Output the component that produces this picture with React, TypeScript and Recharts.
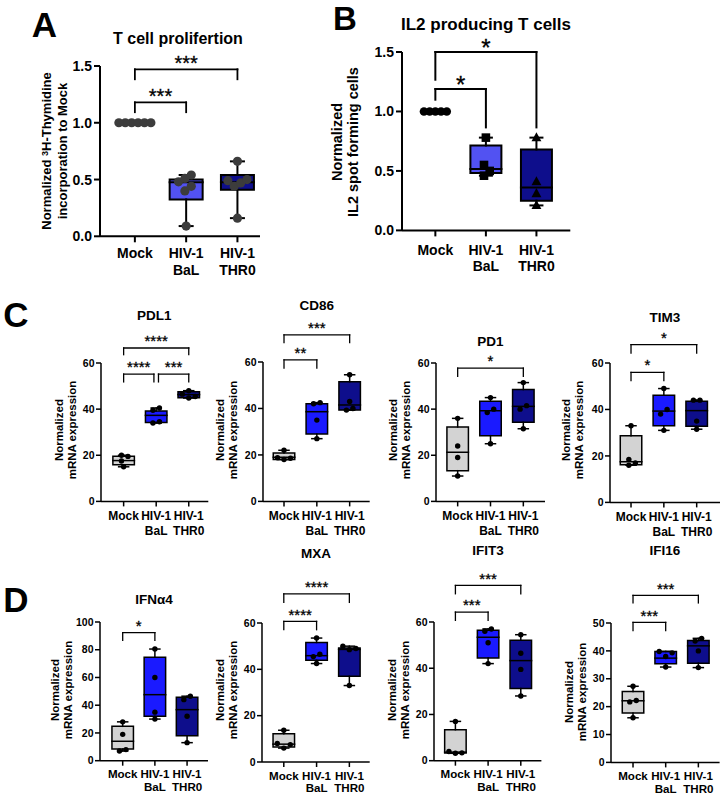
import React from 'react';
import { ComposedChart, XAxis, YAxis, Scatter, ReferenceArea, ReferenceLine, ReferenceDot } from 'recharts';

const FONT = '"Liberation Sans", Arial, Helvetica, sans-serif';

// Categories / tick labels
const categoryKeys = ['Mock', 'HIV-1 BaL', 'HIV-1 THR0'];
const categoryLines = [['Mock'], ['HIV-1', 'BaL'], ['HIV-1', 'THR0']];

// ---------- A : T cell proliferation ----------
const aMock = [1, 1, 1, 1, 1, 1];
const aBaL = [0.09, 0.4, 0.44, 0.48, 0.51, 0.54];
const aTHR0 = [0.16, 0.44, 0.47, 0.49, 0.5, 0.66];
const aQ1 = [1, 0.325, 0.41];
const aMedian = [1, 0.476, 0.476];
const aQ3 = [1, 0.5, 0.54];
const abTicks = [0, 0.5, 1, 1.5];
const aSig = ['***', '***'];

// ---------- B : IL2 producing T cells ----------
const bMock = [1, 1, 1, 1, 1];
const bBaL = [0.46, 0.5, 0.55, 0.78];
const bTHR0 = [0.21, 0.31, 0.41, 0.78];
const bQ1 = [1, 0.483, 0.25];
const bMedian = [1, 0.517, 0.36];
const bQ3 = [1, 0.714, 0.68];
const bSig = ['*', '*'];

// ---------- C ----------
const pdl1Mock = [15, 17.5, 19.5, 20];
const pdl1BaL = [34, 34.5, 39.5, 40.5];
const pdl1THR0 = [44.8, 45.5, 46.5, 48];
const pdl1Q1 = [15.9, 34.2, 44.9];
const pdl1Median = [17.7, 37.3, 46.3];
const pdl1Q3 = [19.6, 39.2, 47.5];
const pdl1Sig = ['****', '***', '****'];

const cd86Mock = [18, 18.6, 18.8, 22];
const cd86BaL = [27, 35, 42, 42.5];
const cd86THR0 = [39.3, 40, 43, 54.5];
const cd86Q1 = [18, 29, 39.3];
const cd86Median = [19, 38.6, 41.5];
const cd86Q3 = [20.8, 42, 51.5];
const cd86Sig = ['**', '***'];

const pd1Mock = [11, 19, 24, 36];
const pd1BaL = [25, 38.5, 40, 45];
const pd1THR0 = [31.5, 40, 41.5, 51.5];
const pd1Q1 = [13.3, 28.5, 34.3];
const pd1Median = [21.3, 39.3, 41.2];
const pd1Q3 = [32.3, 43.4, 48.5];
const pd1Sig = ['*'];

const tim3Mock = [16, 17, 18.5, 33];
const tim3BaL = [31, 38, 40, 49];
const tim3THR0 = [31.5, 35, 44, 44];
const tim3Q1 = [16.2, 33, 32.8];
const tim3Median = [17.5, 39.3, 39.5];
const tim3Q3 = [28.7, 46.1, 43.5];
const tim3Sig = ['*', '*'];

// ---------- D ----------
const ifnMock = [7, 8, 19, 28];
const ifnBaL = [30, 35, 60, 80.5];
const ifnTHR0 = [13, 32, 44, 46.5];
const ifnQ1 = [8.4, 32, 18];
const ifnMedian = [14, 47.6, 36.8];
const ifnQ3 = [24.8, 74.6, 45.7];
const ifnSig = ['*'];

const mxaMock = [6, 7.5, 8, 13.7];
const mxaBaL = [42.5, 45.5, 46.5, 53.5];
const mxaTHR0 = [33, 48.5, 49, 50];
const mxaQ1 = [6.5, 43.9, 37];
const mxaMedian = [7.7, 45.9, 48.6];
const mxaQ3 = [12.2, 51.6, 49.2];
const mxaSig = ['****', '****'];

const ifit3Mock = [3.2, 3.4, 4, 17];
const ifit3BaL = [42, 51, 56, 57];
const ifit3THR0 = [28, 39.5, 46.5, 54.5];
const ifit3Q1 = [3.3, 44.4, 31.2];
const ifit3Median = [3.7, 53.4, 43.3];
const ifit3Q3 = [13.4, 56.4, 52.1];
const ifit3Sig = ['***', '***'];

const ifi16Mock = [16, 21.7, 22.2, 27.3];
const ifi16BaL = [34.2, 38, 39.3, 39.8];
const ifi16THR0 = [34, 40, 43.5, 44.5];
const ifi16Q1 = [17.7, 35.4, 35.6];
const ifi16Median = [22.1, 37.4, 41.8];
const ifi16Q3 = [25.4, 39.8, 43.7];
const ifi16Sig = ['***', '***'];

const ticks60 = [0, 20, 40, 60];
const ticks100 = [0, 20, 40, 60, 80, 100];
const ticks50 = [0, 10, 20, 30, 40, 50];

// ---------- styles ----------
const styleA = { axisSW: 2, tickSize: 6, tickMargin: 2, tickFs: 14, catFs: 14, catBase: 22, catLh: 17, boxHalfPx: 16.5, capHalfPx: 6.5, sw: 2, dotR: 4.6, dotSpacingPx: 6.4, starFs: 20, starGap: 10.7, bracketSW: 1.8 };
const styleB = { ...styleA, catBase: 24.5, catLh: 16, boxHalfPx: 15.5, capHalfPx: 6, dotR: 4.3, dotSpacingPx: 5.7, starFs: 24, starGap: 10.3, bracketSW: 2 };
const styleC = { axisSW: 1.5, tickSize: 5, tickMargin: 1.5, tickFs: 10.5, catFs: 12, catBase: 19, catLh: 14.3, boxHalfPx: 10.75, capHalfPx: 5, sw: 1.5, dotR: 2.7, dotSpacingPx: 6.5, starFs: 15, starGap: 10.5, bracketSW: 1.3 };
const styleD = { ...styleC, catFs: 11.6, catBase: 17.6, catLh: 12.6 };

const GRAY = '#d3d3d3';
const BLUE = '#1a1aff';
const NAVY = '#0e0e8c';
const AB_BLUE = '#5252f2';

const mk = (a: number, b: number, y: number, la: number, lb: number, label: string) => ({ a, b, y, la, lb, label });

const panels: any[] = [
  { L: 100, T: 65.7, W: 160, H: 170.3, xDomain: [-0.68, 2.44], yMax: 1.5, yTicks: abTicks, decimals: 1,
    groups: [aMock, aBaL, aTHR0], q1: aQ1, med: aMedian, q3: aQ3, fills: [GRAY, AB_BLUE, NAVY],
    markers: ['circle', 'circle', 'circle'], dotColor: '#3c3c3c', st: styleA,
    brackets: [mk(0, 1, 1.18, 1.093, 1.093, aSig[0]), mk(0, 2, 1.471, 1.383, 1.383, aSig[1])] },
  { L: 401.7, T: 52.3, W: 168.3, H: 178.4, xDomain: [-0.66, 2.67], yMax: 1.5, yTicks: abTicks, decimals: 1,
    groups: [bMock, bBaL, bTHR0], q1: bQ1, med: bMedian, q3: bQ3, fills: [GRAY, AB_BLUE, NAVY],
    markers: ['circle', 'square', 'triangle'], dotColor: '#000', st: styleB,
    brackets: [mk(0, 1, 1.189, 1.099, 0.866, bSig[0]), mk(0, 2, 1.5, 1.267, 0.866, bSig[1])] },
  { L: 100.7, T: 363.3, W: 107.3, H: 138.4, xDomain: [-0.695, 2.6], yMax: 60, yTicks: ticks60, decimals: 0,
    groups: [pdl1Mock, pdl1BaL, pdl1THR0], q1: pdl1Q1, med: pdl1Median, q3: pdl1Q3, fills: [GRAY, BLUE, NAVY],
    markers: ['circle', 'circle', 'circle'], dotColor: '#000', st: styleC,
    brackets: [mk(0, 0.93, 55.2, 51.8, 51.8, pdl1Sig[0]), mk(1.07, 2, 55.2, 51.8, 51.8, pdl1Sig[1]), mk(0, 2, 66.5, 63.6, 63.6, pdl1Sig[2])] },
  { L: 263.3, T: 362.3, W: 106.7, H: 139.4, xDomain: [-0.64, 2.61], yMax: 60, yTicks: ticks60, decimals: 0,
    groups: [cd86Mock, cd86BaL, cd86THR0], q1: cd86Q1, med: cd86Median, q3: cd86Q3, fills: [GRAY, BLUE, NAVY],
    markers: ['circle', 'circle', 'circle'], dotColor: '#000', st: styleC,
    brackets: [mk(0, 1, 60.9, 57.4, 57.4, cd86Sig[0]), mk(0, 2, 71.7, 68.4, 68.4, cd86Sig[1])] },
  { L: 436, T: 363.3, W: 109, H: 138.4, xDomain: [-0.66, 2.66], yMax: 60, yTicks: ticks60, decimals: 0,
    groups: [pd1Mock, pd1BaL, pd1THR0], q1: pd1Q1, med: pd1Median, q3: pd1Q3, fills: [GRAY, BLUE, NAVY],
    markers: ['circle', 'circle', 'circle'], dotColor: '#000', st: styleC,
    brackets: [mk(0, 2, 57.8, 54.2, 54.2, pd1Sig[0])] },
  { L: 610, T: 363.3, W: 110, H: 139.4, xDomain: [-0.64, 2.71], yMax: 60, yTicks: ticks60, decimals: 0,
    groups: [tim3Mock, tim3BaL, tim3THR0], q1: tim3Q1, med: tim3Median, q3: tim3Q3, fills: [GRAY, BLUE, NAVY],
    markers: ['circle', 'circle', 'circle'], dotColor: '#000', st: styleC,
    brackets: [mk(0, 1, 56, 52.4, 52.4, tim3Sig[0]), mk(0, 2, 67.9, 64.3, 64.3, tim3Sig[1])] },
  { L: 100, T: 622.3, W: 108, H: 138.7, xDomain: [-0.705, 2.65], yMax: 100, yTicks: ticks100, decimals: 0,
    groups: [ifnMock, ifnBaL, ifnTHR0], q1: ifnQ1, med: ifnMedian, q3: ifnQ3, fills: [GRAY, BLUE, NAVY],
    markers: ['circle', 'circle', 'circle'], dotColor: '#000', st: styleD,
    brackets: [mk(0, 1, 92.3, 86.7, 86.7, ifnSig[0])] },
  { L: 262.3, T: 623.3, W: 107.7, H: 139, xDomain: [-0.665, 2.62], yMax: 60, yTicks: ticks60, decimals: 0,
    groups: [mxaMock, mxaBaL, mxaTHR0], q1: mxaQ1, med: mxaMedian, q3: mxaQ3, fills: [GRAY, BLUE, NAVY],
    markers: ['circle', 'circle', 'circle'], dotColor: '#000', st: styleD,
    brackets: [mk(0, 1, 60.7, 57.1, 57.1, mxaSig[0]), mk(0, 2, 72.6, 68.9, 68.9, mxaSig[1])] },
  { L: 434.3, T: 622.3, W: 107.4, H: 138.7, xDomain: [-0.655, 2.63], yMax: 60, yTicks: ticks60, decimals: 0,
    groups: [ifit3Mock, ifit3BaL, ifit3THR0], q1: ifit3Q1, med: ifit3Median, q3: ifit3Q3, fills: [GRAY, BLUE, NAVY],
    markers: ['circle', 'circle', 'circle'], dotColor: '#000', st: styleD,
    brackets: [mk(0, 1, 64.3, 60.7, 60.7, ifit3Sig[0]), mk(0, 2, 75.8, 72.2, 72.2, ifit3Sig[1])] },
  { L: 610.7, T: 623.3, W: 108.6, H: 139.4, xDomain: [-0.674, 2.65], yMax: 50, yTicks: ticks50, decimals: 0,
    groups: [ifi16Mock, ifi16BaL, ifi16THR0], q1: ifi16Q1, med: ifi16Median, q3: ifi16Q3, fills: [GRAY, BLUE, NAVY],
    markers: ['circle', 'circle', 'circle'], dotColor: '#000', st: styleD,
    brackets: [mk(0, 1, 50.2, 47.3, 47.3, ifi16Sig[0]), mk(0, 2, 59.9, 57.2, 57.2, ifi16Sig[1])] },
];

// deterministic beeswarm offsets (in slot units), centred per cluster
function swarm(values: number[], thr: number): number[] {
  const idx = values.map((_, i) => i).sort((a, b) => values[a] - values[b]);
  const slots = new Array(values.length).fill(0);
  const placed: number[] = [];
  const cands = [0, 1, -1, 2, -2, 3, -3, 4, -4, 5, -5];
  for (const i of idx) {
    for (const c of cands) {
      const clash = placed.some((j) => Math.abs(slots[j] - c) < 0.99 && Math.abs(values[j] - values[i]) < thr);
      if (!clash) { slots[i] = c; break; }
    }
    placed.push(i);
  }
  const clusters: number[][] = [];
  let cur = [idx[0]];
  for (let k = 1; k < idx.length; k++) {
    if (values[idx[k]] - values[idx[k - 1]] < thr) cur.push(idx[k]);
    else { clusters.push(cur); cur = [idx[k]]; }
  }
  clusters.push(cur);
  clusters.forEach((cl) => {
    const m = cl.reduce((s, j) => s + slots[j], 0) / cl.length;
    cl.forEach((j) => { slots[j] -= m; });
  });
  return slots;
}

function Marker({ cx, cy, kind, r, color }: any) {
  if (cx == null || cy == null) return null;
  if (kind === 'square') {
    return <rect x={cx - r} y={cy - r} width={2 * r} height={2 * r} fill={color} />;
  }
  if (kind === 'triangle') {
    const h = r * 2.1;
    return <polygon points={`${cx},${cy - h * 0.6} ${cx - r * 1.15},${cy + h * 0.4} ${cx + r * 1.15},${cy + h * 0.4}`} fill={color} />;
  }
  return <circle cx={cx} cy={cy} r={r} fill={color} />;
}

function BoxPanel({ p }: any) {
  const st = p.st;
  const margin = { top: 70, right: 20, bottom: 0, left: 20 };
  const yW = 40;
  const xH = 50;
  const width = p.W + margin.left + yW + margin.right;
  const height = p.H + margin.top + xH;
  const pxX = p.W / (p.xDomain[1] - p.xDomain[0]);
  const pxY = p.H / p.yMax;
  const boxHalf = st.boxHalfPx / pxX;
  const capHalf = st.capHalfPx / pxX;
  const spacing = st.dotSpacingPx / pxX;
  const thr = (st.dotR * 2) / pxY;

  const seg = (x1: number, y1: number, x2: number, y2: number, sw: number, k: string) => (
    <ReferenceLine key={k} segment={[{ x: x1, y: y1 }, { x: x2, y: y2 }]} stroke="#000" strokeWidth={sw}
      strokeLinecap="square" ifOverflow="visible" />
  );

  const els: any[] = [];
  p.groups.forEach((vals: number[], gi: number) => {
    const lo = Math.min(...vals);
    const hi = Math.max(...vals);
    if (hi > lo) {
      els.push(
        <ReferenceArea key={`box${gi}`} x1={gi - boxHalf} x2={gi + boxHalf} y1={p.q1[gi]} y2={p.q3[gi]}
          fill={p.fills[gi]} fillOpacity={1} stroke="#000" strokeWidth={st.sw} ifOverflow="visible" />
      );
      els.push(seg(gi - boxHalf, p.med[gi], gi + boxHalf, p.med[gi], st.sw, `med${gi}`));
      els.push(seg(gi, p.q3[gi], gi, hi, st.sw, `wu${gi}`));
      els.push(seg(gi, p.q1[gi], gi, lo, st.sw, `wl${gi}`));
      els.push(seg(gi - capHalf, hi, gi + capHalf, hi, st.sw, `cu${gi}`));
      els.push(seg(gi - capHalf, lo, gi + capHalf, lo, st.sw, `cl${gi}`));
    }
  });
  p.brackets.forEach((b: any, bi: number) => {
    els.push(seg(b.a, b.y, b.b, b.y, st.bracketSW, `bh${bi}`));
    els.push(seg(b.a, b.la, b.a, b.y, st.bracketSW, `bl${bi}`));
    els.push(seg(b.b, b.lb, b.b, b.y, st.bracketSW, `br${bi}`));
    els.push(
      <ReferenceDot key={`bs${bi}`} x={(b.a + b.b) / 2} y={b.y} r={0} ifOverflow="visible"
        shape={(d: any) => (
          <text x={d.cx} y={d.cy - st.starGap + 0.58 * st.starFs} textAnchor="middle" fontFamily={FONT}
            fontSize={st.starFs} fill="#000" stroke="#000" strokeWidth={0.3}>{b.label}</text>
        )} />
    );
  });

  const catTick = (props: any) => {
    const { x, y, payload } = props;
    const lines = categoryLines[Math.round(payload.value)] || [];
    const base = y - st.tickSize - st.tickMargin + st.catBase;
    return (
      <text x={x} y={base} textAnchor="middle" fontFamily={FONT} fontWeight="bold" fontSize={st.catFs} fill="#000">
        {lines.map((l, i) => (
          <tspan key={i} x={x} y={base + i * st.catLh}>{l}</tspan>
        ))}
      </text>
    );
  };

  return (
    <div style={{ position: 'absolute', left: p.L - margin.left - yW, top: p.T - margin.top }}>
      <ComposedChart width={width} height={height} margin={margin}>
        <XAxis type="number" dataKey="x" domain={p.xDomain} ticks={[0, 1, 2]} interval={0} allowDataOverflow
          height={xH} tickSize={st.tickSize} tickMargin={st.tickMargin} tick={catTick}
          axisLine={{ stroke: '#000', strokeWidth: st.axisSW }} tickLine={{ stroke: '#000', strokeWidth: st.axisSW }} />
        <YAxis type="number" dataKey="y" domain={[0, p.yMax]} ticks={p.yTicks} interval={0} allowDataOverflow
          width={yW} tickSize={st.tickSize} tickMargin={st.tickMargin}
          tickFormatter={(v: number) => v.toFixed(p.decimals)}
          tick={{ fill: '#000', fontSize: st.tickFs, fontWeight: 700, fontFamily: FONT }}
          axisLine={{ stroke: '#000', strokeWidth: st.axisSW }} tickLine={{ stroke: '#000', strokeWidth: st.axisSW }} />
        {els}
        {p.groups.map((vals: number[], gi: number) => {
          const slots = swarm(vals, thr);
          const data = vals.map((v, k) => ({ x: gi + slots[k] * spacing, y: v, group: categoryKeys[gi] }));
          return (
            <Scatter key={`s${gi}`} data={data} isAnimationActive={false}
              shape={(d: any) => <Marker cx={d.cx} cy={d.cy} kind={p.markers[gi]} r={st.dotR} color={p.dotColor} />} />
          );
        })}
      </ComposedChart>
    </div>
  );
}

function Txt({ x, y, fs, lh, rotate, children, weight }: any) {
  return (
    <div style={{
      position: 'absolute', left: x, top: y,
      transform: `translate(-50%, -50%)${rotate ? ' rotate(-90deg)' : ''}`,
      fontFamily: FONT, fontWeight: weight || 'bold', fontSize: fs,
      lineHeight: lh ? `${lh}px` : 1, whiteSpace: 'nowrap', textAlign: 'center', color: '#000',
    }}>{children}</div>
  );
}

const panelTitles = [
  { t: 'T cell prolifertion', x: 178, y: 39, fs: 16 },
  { t: 'IL2 producing T cells', x: 486, y: 24, fs: 17 },
  { t: 'PDL1', x: 154.3, y: 316, fs: 13.5 },
  { t: 'CD86', x: 316.7, y: 306, fs: 13.5 },
  { t: 'PD1', x: 490.5, y: 342, fs: 13.5 },
  { t: 'TIM3', x: 665, y: 318, fs: 13.5 },
  { t: 'IFNα4', x: 154, y: 600, fs: 13.5 },
  { t: 'MXA', x: 316, y: 554, fs: 13.5 },
  { t: 'IFIT3', x: 488, y: 551, fs: 13.5 },
  { t: 'IFI16', x: 665, y: 551, fs: 13.5 },
];

const mrnaLabelPos = [
  { x: 66, y: 430 }, { x: 227, y: 430 }, { x: 399.7, y: 430 }, { x: 572.7, y: 430 },
  { x: 61.5, y: 690 }, { x: 227, y: 690 }, { x: 399, y: 690 }, { x: 576, y: 692 },
];

const letters = [
  { t: 'A', x: 44.5, y: 25, fs: 35 }, { t: 'B', x: 345, y: 19, fs: 33 },
  { t: 'C', x: 16, y: 315, fs: 35 }, { t: 'D', x: 16, y: 600, fs: 35 },
];

export default function App() {
  return (
    <div style={{ position: 'absolute', left: 0, top: 0, width: 723, height: 795, background: '#fff', overflow: 'hidden' }}>
      {letters.map((l) => <Txt key={l.t} x={l.x} y={l.y} fs={l.fs} lh={26}>{l.t}</Txt>)}
      {panelTitles.map((t) => <Txt key={t.t} x={t.x} y={t.y} fs={t.fs}>{t.t}</Txt>)}
      <Txt x={54.6} y={151} fs={13} lh={16} rotate>
        Normalized <span style={{ fontSize: '0.7em', verticalAlign: 'top', position: 'relative', top: -2 }}>3</span>H-Thymidine<br />incorporation to Mock
      </Txt>
      <Txt x={345} y={142} fs={14.5} lh={16} rotate>Normalized<br />IL2 spot forming cells</Txt>
      {mrnaLabelPos.map((m, i) => (
        <Txt key={i} x={m.x} y={m.y} fs={11.5} lh={13.4} rotate>Normalized<br />mRNA expression</Txt>
      ))}
      {panels.map((p, i) => <BoxPanel key={i} p={p} />)}
    </div>
  );
}
